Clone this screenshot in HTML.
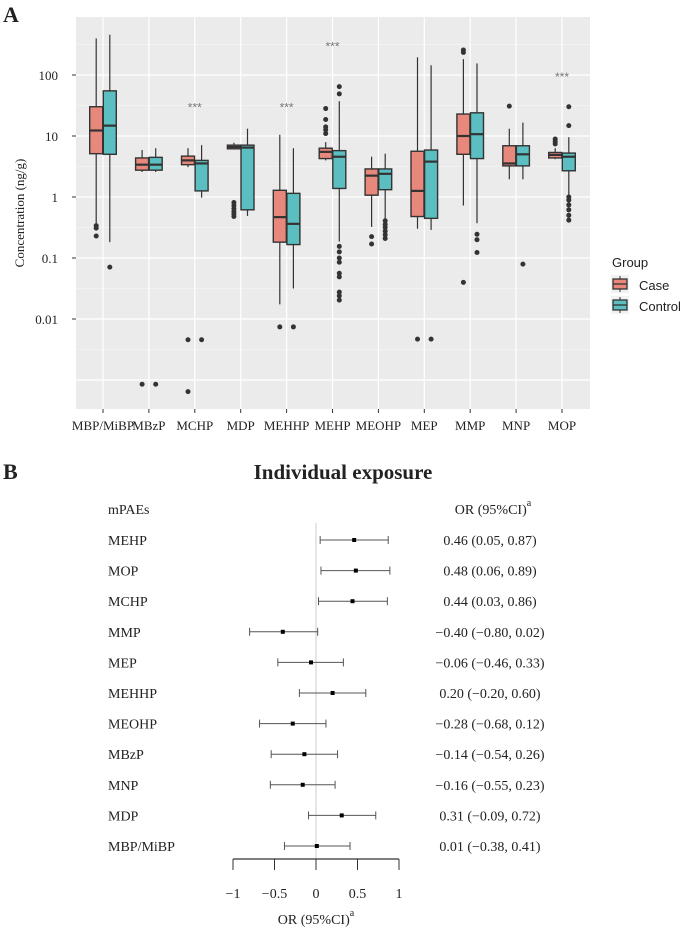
<!DOCTYPE html>
<html><head><meta charset="utf-8">
<style>
body{margin:0;background:#fff;}
svg{display:block;}
.serif{font-family:"Liberation Serif",serif;}
.sans{font-family:"Liberation Sans",sans-serif;}
</style></head>
<body>
<svg id="fig" width="685" height="931" viewBox="0 0 685 931">
  <text x="3" y="22" class="serif" font-weight="bold" font-size="22" fill="#222">A</text>
  <rect x="76" y="17" width="514" height="392" fill="#ebebeb"/>
  <g id="grid"></g>
  <g id="boxes"></g>
  <g id="axes"></g>
  <text transform="translate(24,213) rotate(-90)" text-anchor="middle" class="serif" font-size="13" fill="#222">Concentration (ng/g)</text>
  <g>
    <text x="612" y="267" class="sans" font-size="13" fill="#222">Group</text>
    <rect x="611" y="275" width="18" height="18" fill="#f2f2f2"/>
    <line x1="620" y1="276" x2="620" y2="292" stroke="#333"/>
    <rect x="613" y="279" width="14" height="10" fill="#E8877C" stroke="#333" stroke-width="1.3"/>
    <line x1="613" y1="284" x2="627" y2="284" stroke="#333" stroke-width="1.3"/>
    <text x="639" y="290" class="sans" font-size="13" fill="#222">Case</text>
    <rect x="611" y="296" width="18" height="18" fill="#f2f2f2"/>
    <line x1="620" y1="297" x2="620" y2="313" stroke="#333"/>
    <rect x="613" y="300" width="14" height="10" fill="#5BBEC0" stroke="#333" stroke-width="1.3"/>
    <line x1="613" y1="305" x2="627" y2="305" stroke="#333" stroke-width="1.3"/>
    <text x="639" y="311" class="sans" font-size="13" fill="#222">Control</text>
  </g>

  <text x="3" y="479" class="serif" font-weight="bold" font-size="22" fill="#222">B</text>
  <text x="343" y="479" text-anchor="middle" class="serif" font-weight="bold" font-size="21" fill="#222">Individual exposure</text>
  <text x="108" y="514" class="serif" font-size="14" fill="#222">mPAEs</text>
  <g id="forest"></g>
</svg>
<script>
// ---- Box plot data (log10 of concentration) ----
const categories = ["MBP/MiBP","MBzP","MCHP","MDP","MEHHP","MEHP","MEOHP","MEP","MMP","MNP","MOP"];
const caseLow   = [-0.43,0.41,0.49,0.79,-1.76,0.60,-0.49,-0.52,-0.14,0.29,0.62];
const caseQ1    = [0.71,0.44,0.53,0.79,-0.74,0.63,0.03,-0.32,0.70,0.51,0.64];
const caseMed   = [1.09,0.53,0.60,0.82,-0.33,0.74,0.35,0.10,1.00,0.55,0.69];
const caseQ3    = [1.48,0.64,0.67,0.85,0.11,0.80,0.46,0.75,1.36,0.84,0.73];
const caseHigh  = [2.60,0.77,0.80,0.89,1.02,0.90,0.66,2.29,2.26,1.12,0.80];
const caseOut   = [[-0.47,-0.51,-0.64],[-3.07],[-2.34,-3.19],[-0.09,-0.14,-0.19,-0.24,-0.28,-0.32],[-2.13],[1.45,1.27,1.15,1.10,1.04],[-0.65,-0.77],[-2.33],[2.41,2.37,-1.40],[1.49],[0.95,0.91,0.87]];
const ctrlLow   = [-0.74,0.41,-0.01,-0.31,-1.50,-0.73,-0.37,-0.54,-0.43,0.29,0.02];
const ctrlQ1    = [0.70,0.44,0.10,-0.21,-0.78,0.14,0.12,-0.35,0.63,0.51,0.43];
const ctrlMed   = [1.17,0.53,0.55,0.81,-0.44,0.66,0.38,0.58,1.03,0.70,0.66];
const ctrlQ3    = [1.74,0.65,0.60,0.85,0.06,0.76,0.46,0.77,1.38,0.84,0.72];
const ctrlHigh  = [2.66,0.80,0.85,1.12,0.80,1.57,0.71,2.16,2.19,1.22,0.98];
const ctrlOut   = [[-1.15],[-3.07],[-2.34],[],[-2.13],[1.81,1.69,-0.81,-0.90,-1.0,-1.07,-1.25,-1.31,-1.56,-1.62,-1.69],[-0.39,-0.45,-0.50,-0.56,-0.62,-0.68],[-2.33],[-0.61,-0.70,-0.91],[-1.10],[1.48,1.17,0,-0.05,-0.13,-0.21,-0.30,-0.38]];
const sigCats   = ["MCHP","MEHHP","MEHP","MOP"];
const sigLevels = [1.5,1.5,2.5,2.0];
const yTickVals = [2,1,0,-1,-2];
const yTickLabels = ["100","10","1","0.1","0.01"];

// ---- Forest plot data ----
const fNames = ["MEHP","MOP","MCHP","MMP","MEP","MEHHP","MEOHP","MBzP","MNP","MDP","MBP/MiBP"];
const fOR    = [0.46,0.48,0.44,-0.40,-0.06,0.20,-0.28,-0.14,-0.16,0.31,0.01];
const fLo    = [0.05,0.06,0.03,-0.80,-0.46,-0.20,-0.68,-0.54,-0.55,-0.09,-0.38];
const fHi    = [0.87,0.89,0.86,0.02,0.33,0.60,0.12,0.26,0.23,0.72,0.41];
const fTicks = [-1,-0.5,0,0.5,1];

const NS="http://www.w3.org/2000/svg";
function mk(tag,attrs,parent){const e=document.createElementNS(NS,tag);for(const k in attrs)e.setAttribute(k,attrs[k]);parent.appendChild(e);return e;}
const yS = v => 197 - 61*v;
const xS = i => 103 + 45.9*i;
const grid=document.getElementById('grid'), boxes=document.getElementById('boxes'), axes=document.getElementById('axes');

for(let v=2.5; v>-3; v-=1){
  const l=mk('line',{x1:76,x2:590,y1:yS(v),y2:yS(v),stroke:'#fafafa','stroke-width':0.6},grid);
  
  
}
for(let v=2; v>=-3; v-=1){
  const l=mk('line',{x1:76,x2:590,y1:yS(v),y2:yS(v),stroke:'#fff','stroke-width':1.2},grid);
  
  
}
categories.forEach((c,i)=>{
  const l=mk('line',{x1:xS(i),x2:xS(i),y1:17,y2:409,stroke:'#fff','stroke-width':1.2},grid);
  
  
});
yTickVals.forEach((v,i)=>{
  mk('line',{x1:72,x2:76,y1:yS(v),y2:yS(v),stroke:'#333'},axes);
  const t=mk('text',{x:58,y:yS(v)+5,'text-anchor':'end','font-size':13,fill:'#222',class:'serif'},axes);
  t.textContent=yTickLabels[i];
  
  
});
categories.forEach((c,i)=>{
  mk('line',{x1:xS(i),x2:xS(i),y1:409,y2:413,stroke:'#333'},axes);
  const t=mk('text',{x:xS(i),y:430,'text-anchor':'middle','font-size':13,fill:'#222',class:'serif'},axes);
  t.textContent=c;
  
  
});
function drawBox(cx,lo,q1,md,q3,hi,outs,col,name){
  const g=mk('g',{},boxes);
  
  
  mk('line',{x1:cx,x2:cx,y1:yS(hi),y2:yS(q3),stroke:'#333','stroke-width':1.2},g);
  mk('line',{x1:cx,x2:cx,y1:yS(q1),y2:yS(lo),stroke:'#333','stroke-width':1.2},g);
  mk('rect',{x:cx-6.5,y:yS(q3),width:13,height:Math.max(yS(q1)-yS(q3),0.5),fill:col,stroke:'#333','stroke-width':1.4},g);
  mk('line',{x1:cx-6.5,x2:cx+6.5,y1:yS(md),y2:yS(md),stroke:'#333','stroke-width':2.2},g);
  outs.forEach(o=>mk('circle',{cx:cx,cy:yS(o),r:2.5,fill:'#333'},g));
}
categories.forEach((c,i)=>{
  drawBox(xS(i)-6.8,caseLow[i],caseQ1[i],caseMed[i],caseQ3[i],caseHigh[i],caseOut[i],'#E8877C','box-case-'+c.toLowerCase().replace('/','-'));
  drawBox(xS(i)+6.8,ctrlLow[i],ctrlQ1[i],ctrlMed[i],ctrlQ3[i],ctrlHigh[i],ctrlOut[i],'#5BBEC0','box-control-'+c.toLowerCase().replace('/','-'));
});
sigCats.forEach((c,k)=>{
  const i=categories.indexOf(c);
  const t=mk('text',{x:xS(i),y:yS(sigLevels[k])+6,'text-anchor':'middle','font-size':12,fill:'#777',class:'sans'},boxes);
  t.textContent='***';
  
  
});

// forest
const fg=document.getElementById('forest');
const fx = v => 316 + 83*v;
const fy = i => 540 + 30.6*i;
const vl=mk('line',{x1:fx(0),x2:fx(0),y1:523,y2:859,stroke:'#ccc','stroke-width':1},fg);


const hdr=mk('text',{x:493,y:514,'text-anchor':'middle','font-size':14,fill:'#222',class:'serif'},fg);
hdr.innerHTML='OR (95%CI)<tspan dy="-8" font-size="10">a</tspan>';


function fmt(v){return (v<0?'\u2212':'')+Math.abs(v).toFixed(2);}
fNames.forEach((n,i)=>{
  const y=fy(i);
  const lab=mk('text',{x:108,y:y+5,'font-size':14,fill:'#222',class:'serif'},fg);
  lab.textContent=n;
  
  
  const g=mk('g',{},fg);
  
  
  mk('line',{x1:fx(fLo[i]),x2:fx(fHi[i]),y1:y,y2:y,stroke:'#555','stroke-width':1},g);
  mk('line',{x1:fx(fLo[i]),x2:fx(fLo[i]),y1:y-4,y2:y+4,stroke:'#555','stroke-width':1},g);
  mk('line',{x1:fx(fHi[i]),x2:fx(fHi[i]),y1:y-4,y2:y+4,stroke:'#555','stroke-width':1},g);
  mk('rect',{x:fx(fOR[i])-2,y:y-2,width:4,height:4,fill:'#000'},g);
  const v=mk('text',{x:490,y:y+5,'text-anchor':'middle','font-size':14,fill:'#222',class:'serif'},fg);
  v.textContent=fmt(fOR[i])+' ('+fmt(fLo[i])+', '+fmt(fHi[i])+')';
  
  
});
const ax=mk('line',{x1:fx(-1),x2:fx(1),y1:859,y2:859,stroke:'#333','stroke-width':1.2},fg);


fTicks.forEach(t=>{
  mk('line',{x1:fx(t),x2:fx(t),y1:859,y2:870,stroke:'#333','stroke-width':1},fg);
  const tl=mk('text',{x:fx(t),y:898,'text-anchor':'middle','font-size':14,fill:'#222',class:'serif'},fg);
  tl.textContent=(t<0?'\u2212':'')+Math.abs(t);
  
  
});
const xt=mk('text',{x:316,y:924,'text-anchor':'middle','font-size':14,fill:'#222',class:'serif'},fg);
xt.innerHTML='OR (95%CI)<tspan dy="-8" font-size="10">a</tspan>';


</script>
</body></html>
